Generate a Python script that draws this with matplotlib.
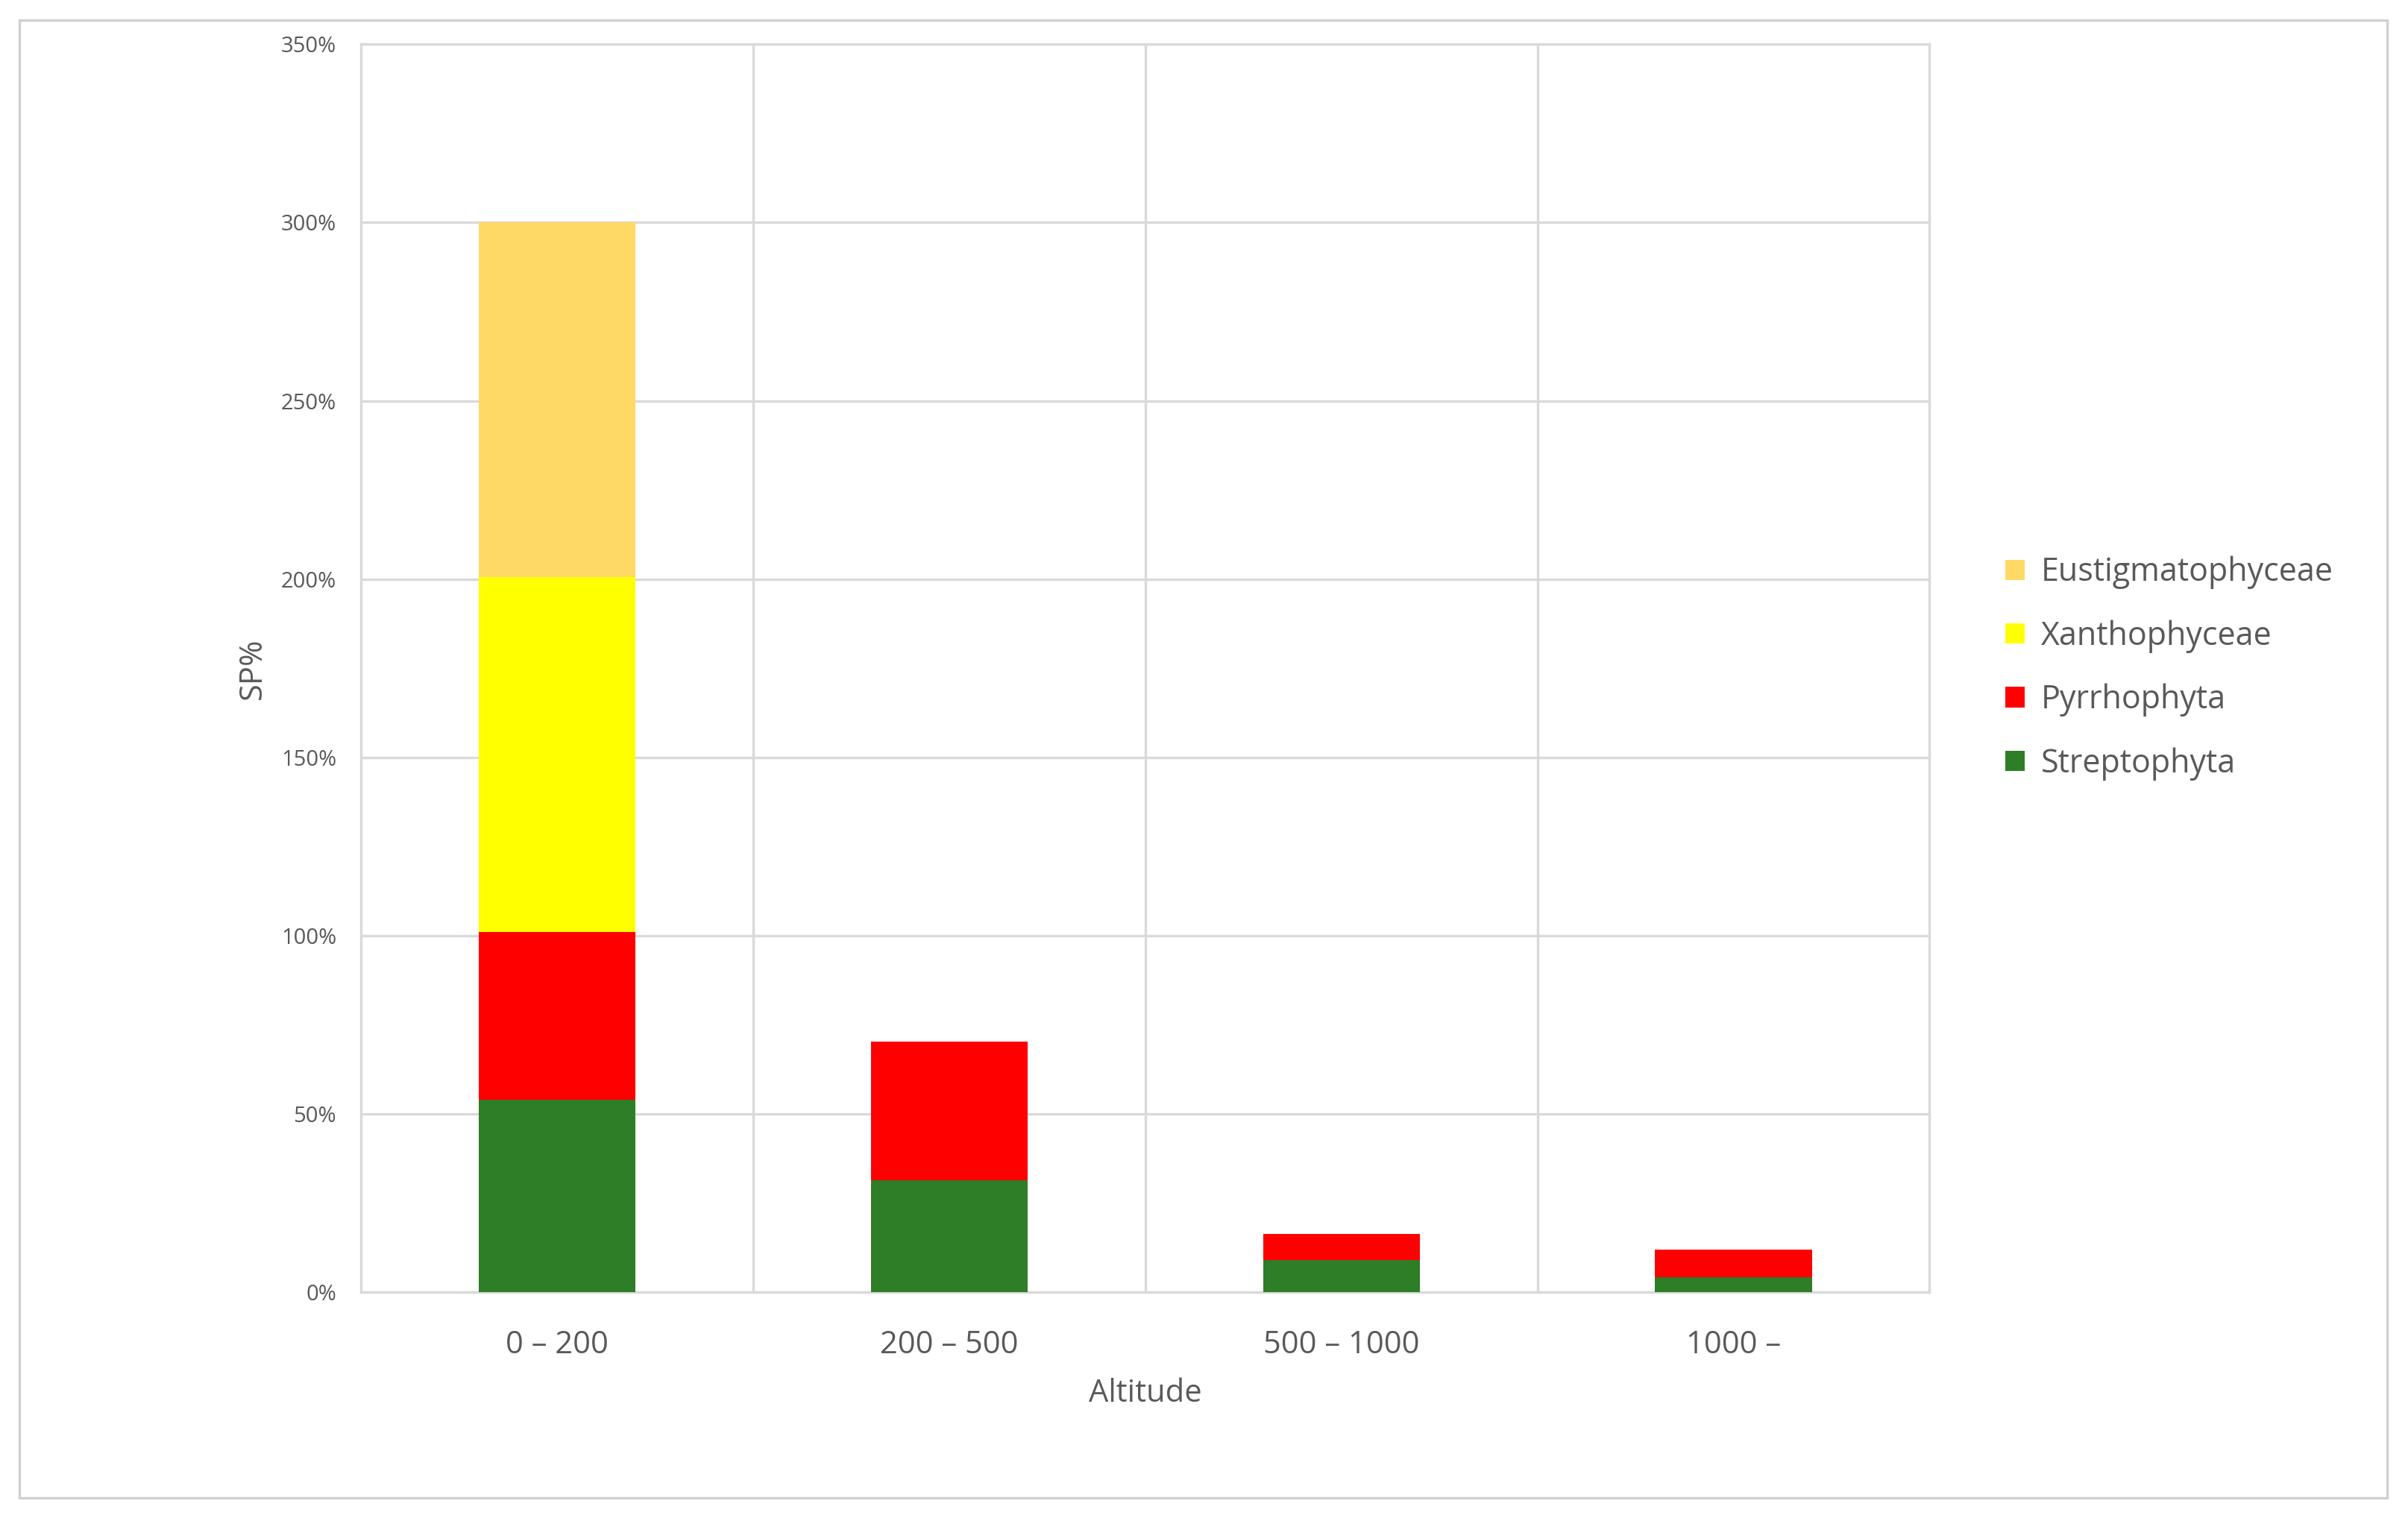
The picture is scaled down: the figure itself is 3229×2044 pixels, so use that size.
import matplotlib
matplotlib.use("Agg")
import matplotlib.pyplot as plt
from matplotlib.patches import Rectangle
from matplotlib.ticker import FuncFormatter

categories = ["0 – 200", "200 – 500", "500 – 1000", "1000 –"]
streptophyta = [54, 31.5, 9, 4.3]
pyrrhophyta = [47, 38.8, 7.4, 7.7]
xanthophyceae = [99.5, 0, 0, 0]
eustigmatophyceae = [99.5, 0, 0, 0]
series = [("Streptophyta", streptophyta, "#2e7d27"),
          ("Pyrrhophyta", pyrrhophyta, "#ff0000"),
          ("Xanthophyceae", xanthophyceae, "#ffff00"),
          ("Eustigmatophyceae", eustigmatophyceae, "#ffd966")]

plt.rcParams['font.family'] = ['Open Sans', 'DejaVu Sans']
fig = plt.figure(figsize=(16.15, 10.22), dpi=200)
fig.patches.append(Rectangle((0.008, 0.017), 0.983, 0.97, transform=fig.transFigure,
                             fill=False, edgecolor="#d0d0d0", lw=1.2))
ax = fig.add_axes([0.150, 0.152, 0.651, 0.819])
x = list(range(len(categories)))
bottom = [0] * len(categories)
handles = []
for name, vals, col in series:
    b = ax.bar(x, vals, 0.4, bottom=bottom, color=col, label=name, zorder=3)
    handles.append(b)
    bottom = [a + v for a, v in zip(bottom, vals)]
ax.set_xlim(-0.5, 3.5)
ax.set_ylim(0, 350)
ax.set_yticks(range(0, 351, 50))
ax.yaxis.set_major_formatter(FuncFormatter(lambda v, p: f"{int(v)}%"))
ax.set_xticks(x)
ax.set_xticklabels(categories, fontsize=15, color="#595959")
ax.tick_params(axis='y', labelsize=10.5, colors="#595959", length=0, pad=12)
ax.tick_params(axis='x', length=0, pad=18)
ax.grid(axis='y', color="#d9d9d9", lw=1.2, zorder=0)
for xv in [0.5, 1.5, 2.5]:
    ax.axvline(xv, color="#d9d9d9", lw=1.2, zorder=0)
for s in ax.spines.values():
    s.set_color("#d9d9d9")
    s.set_linewidth(1.2)
ax.set_xlabel("Altitude", fontsize=15, color="#595959", labelpad=8)
ax.set_ylabel("SP%", fontsize=15, color="#595959", labelpad=6)
ax.legend(handles[::-1], [s[0] for s in series][::-1], loc="center left",
          bbox_to_anchor=(1.03, 0.5), frameon=False, fontsize=15.5,
          labelcolor="#595959", handlelength=0.6, handleheight=0.6,
          handletextpad=0.5, labelspacing=0.95)
fig.savefig("out.png", dpi=200)
